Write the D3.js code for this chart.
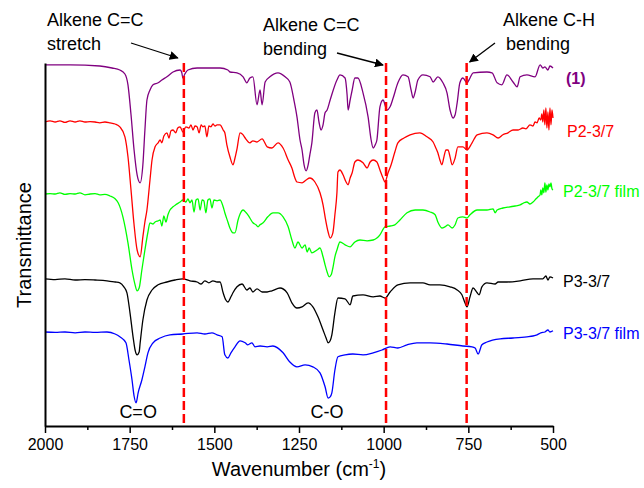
<!DOCTYPE html>
<html>
<head>
<meta charset="utf-8">
<script src="https://cdn.jsdelivr.net/npm/d3@7"></script>
<style>
  body { margin: 0; background: #fff; }
  svg { display: block; }
  text { font-family: "Liberation Sans", Arial, Helvetica, sans-serif; }
</style>
</head>
<body>
<svg id="chart" width="644" height="488"></svg>
<script>
// FTIR spectra, offset vertically; values are [wavenumber (cm-1), transmittance (offset, a.u.)]
const wnTicks = [2000, 1750, 1500, 1250, 1000, 750, 500];
const wnMinorTicks = [1875, 1625, 1375, 1125, 875, 625];

const spectrumMonomer = [
  [2000,90.3],[1926,90.3],[1838,90],[1802,89.5],[1779,89],[1764,88],[1755,85.3],[1746,77.8],
  [1737,69],[1728,62.8],[1719,60.8],[1711,65.3],[1705,74],[1699,81.5],[1690,84],[1681,85.3],
  [1666,85.8],[1655,86.5],[1640,87.3],[1622,88.5],[1601,89],[1596,88.3],[1593,87],[1587,88],
  [1578,89],[1551,89.5],[1483,89.5],[1460,89],[1454,88.5],[1433,88.3],[1415,87.3],[1404,85.8],
  [1395,87],[1386,87.3],[1374,80.3],[1365,84],[1359,80.3],[1350,86],[1336,87.3],[1312,88.3],
  [1291,87.3],[1277,86],[1265,81.5],[1256,77.3],[1247,71.5],[1241,69],[1235,65.3],[1229,63.8],
  [1223,65.3],[1218,67.8],[1212,70.8],[1203,78.3],[1197,79],[1191,76],[1185,74],[1179,75.3],
  [1173,78.3],[1167,79],[1158,81.5],[1138,86.5],[1129,87.8],[1114,87],[1108,82.8],[1105,79],
  [1099,81.5],[1093,84],[1085,87],[1076,87],[1061,83.3],[1046,77.3],[1037,71.5],[1031,69.5],
  [1025,70.3],[1020,71.5],[1011,79.8],[1002,81.5],[990,79],[981,79.8],[972,82],[958,85.8],
  [943,87.8],[928,87.3],[919,84],[913,82],[907,83.5],[899,86.5],[884,87.8],[863,87.3],
  [854,86],[840,87.3],[825,85.8],[813,83.3],[804,79],[795,77],[789,77.8],[783,80.8],
  [775,85.8],[766,87],[754,85.8],[745,87],[736,88.3],[695,88.5],[680,88.3],[665,85.8],
  [651,85.3],[636,87.8],[618,86],[606,84.8],[597,87.3],[577,87.8],[553,87.3],[538,90.3],
  [530,89.5],[524,89.8],[515,89],[509,90],[500,89.5]
];

const spectrumP2 = [
  [2000,76],[1985,76.3],[1970,76],[1956,76.3],[1941,75.9],[1926,76.3],[1911,76],[1897,76.3],
  [1882,76],[1867,76.1],[1852,76],[1838,75.8],[1823,76],[1808,75.8],[1793,75.5],[1779,74.8],
  [1764,72.3],[1755,67.3],[1746,59],[1737,50.3],[1728,44],[1719,42.3],[1711,47.3],[1705,51],
  [1699,54],[1690,61.5],[1684,66.5],[1675,69.8],[1666,70.8],[1660,71.5],[1655,70.8],[1649,72.5],
  [1640,73.3],[1634,72],[1628,73.8],[1622,74],[1614,73.3],[1608,74.5],[1601,74.8],[1593,73.5],
  [1584,74.8],[1575,74.5],[1569,75.3],[1563,74],[1557,75],[1551,74.8],[1545,73.3],[1539,75.3],
  [1534,74.8],[1528,75],[1522,72.3],[1516,75],[1510,74.8],[1504,75.5],[1498,75],[1492,75.3],
  [1483,75.3],[1474,74],[1469,73.3],[1463,70.3],[1454,67.3],[1445,65.3],[1439,67],[1433,69.3],
  [1424,73.3],[1415,72.8],[1409,72],[1395,70.8],[1386,71.3],[1374,71],[1359,71.8],[1344,69.8],
  [1330,69.5],[1312,70.8],[1297,69.5],[1282,66.5],[1271,64.5],[1262,62],[1256,61],[1241,60.8],
  [1229,61.5],[1218,62],[1203,61],[1188,58.3],[1179,55.3],[1173,52.3],[1164,48.5],[1158,47],
  [1150,48.3],[1144,52.8],[1138,58.3],[1135,63.5],[1129,64],[1120,62.8],[1111,61],[1105,60.3],
  [1099,62],[1093,63.3],[1085,66],[1076,66.5],[1061,65.8],[1049,64.5],[1040,66],[1031,66.5],
  [1020,66],[1011,64],[1002,62],[996,61],[987,63.3],[978,65.3],[967,68.5],[958,70.8],
  [940,72],[922,72.8],[893,73.3],[872,72.3],[854,71],[846,69.5],[840,68.3],[834,66.5],
  [828,65.3],[822,67.3],[816,69],[810,69],[804,67.3],[798,65.3],[789,67],[781,69.8],
  [766,69.8],[754,69],[739,70.8],[724,72.8],[695,73.3],[677,72.8],[662,72],[648,72.8],
  [633,73.3],[618,74],[603,74],[589,74.5],[580,74.3],[568,75.3],[559,75],[553,76],
  [547,75.8],[541,77],[536,76.5],[533,78],[530,76],[527,79],[524,75.3],[521,79.5],
  [518,74.5],[515,78.5],[512,74],[509,79.5],[506,75.3],[503,79],[500,77]
];

const spectrumP2Film = [
  [2000,58],[1985,58.1],[1970,58],[1956,58.3],[1941,57.9],[1926,58.1],[1911,58],[1897,58.3],
  [1882,57.8],[1867,58],[1852,58.1],[1838,57.8],[1823,57.9],[1808,57.5],[1793,56.8],[1784,55.8],
  [1770,52.3],[1755,45.8],[1743,39],[1734,35.3],[1728,33.8],[1722,34.5],[1714,39],[1705,44],
  [1696,48.5],[1690,50.8],[1681,50.5],[1675,51],[1666,51.3],[1660,51.5],[1655,50],[1649,52.5],
  [1643,51],[1637,52.8],[1631,54],[1622,54.8],[1614,55.3],[1601,56],[1593,56.5],[1584,56],
  [1578,56.8],[1572,55.8],[1566,56.5],[1560,53.5],[1554,56.5],[1548,56.8],[1542,54],[1536,56.5],
  [1531,56.3],[1525,53.3],[1519,56.5],[1513,56.8],[1507,54.5],[1501,56.5],[1492,56.3],[1483,56.5],
  [1474,54.8],[1469,53.3],[1460,51],[1454,49.5],[1445,48.3],[1439,48.3],[1430,51.5],[1424,53],
  [1415,54],[1406,53.3],[1401,52.8],[1395,52],[1386,50.8],[1377,50.3],[1371,49.8],[1365,50.3],
  [1356,50.8],[1342,52.3],[1327,53.3],[1312,53.3],[1297,52.3],[1282,49.8],[1271,46.5],[1262,44.5],
  [1253,46],[1241,44.5],[1232,45.3],[1226,43.5],[1220,44.5],[1212,43.3],[1197,44],[1188,44.5],
  [1179,42.3],[1173,40.3],[1167,38.5],[1161,37.3],[1155,37.8],[1150,39.5],[1144,42.3],[1138,44],
  [1129,46],[1114,45.3],[1099,44.8],[1085,46],[1070,46.5],[1049,46.3],[1031,46.5],[1020,47],
  [1011,47.8],[996,49.8],[981,50],[967,50.3],[952,51.5],[931,53.3],[907,54],[884,54],
  [863,53.5],[848,52.8],[840,51],[828,49.5],[819,49.8],[810,50.3],[798,49.5],[789,50.3],
  [781,52],[766,52.3],[754,52],[745,52.8],[724,54],[695,54],[677,54.3],[671,53.3],
  [665,54],[648,54.5],[627,54.8],[612,55],[597,55.3],[586,55.8],[577,56],[568,55.5],
  [559,56],[550,56.8],[544,57.3],[538,57.8],[536,59],[533,57.8],[530,59.5],[527,58.3],
  [524,60.8],[521,58.5],[518,60.3],[515,59],[512,60.5],[509,59.8],[506,60.8],[503,59.3],[500,59]
];

const spectrumP3 = [
  [2000,36.8],[1970,36.6],[1941,36.8],[1911,36.5],[1882,36.6],[1852,36.5],[1817,36.3],[1793,36],
  [1779,35.8],[1767,34.8],[1758,33.3],[1749,28.3],[1740,22.3],[1734,19],[1728,17.8],[1722,18.5],
  [1719,20.8],[1711,26.5],[1699,31.5],[1684,34],[1666,35.3],[1640,36],[1616,36.5],[1593,36.8],
  [1572,36.3],[1551,36],[1539,35.5],[1528,36.3],[1516,35.8],[1504,36.3],[1492,36],[1483,36],
  [1474,33.3],[1466,31.5],[1460,31],[1451,32.3],[1445,33.3],[1433,34.8],[1418,35.5],[1404,34],
  [1395,34.5],[1386,33.5],[1374,34.3],[1359,33.5],[1344,33.5],[1330,33.8],[1306,34.5],[1285,33.3],
  [1271,30.8],[1256,29.5],[1241,29.8],[1223,30.8],[1209,29.8],[1194,27.3],[1179,24],[1170,22],
  [1164,20.8],[1158,21.3],[1153,22.8],[1144,28.3],[1135,32],[1114,31.8],[1099,30.3],[1091,32.5],
  [1061,32.8],[1031,32.3],[1011,32.5],[996,32],[981,33.5],[958,35.3],[922,35.8],[884,35.8],
  [863,35.3],[834,35.3],[804,34.8],[783,34],[769,32.8],[760,30.8],[754,29.8],[745,32.3],
  [736,34.5],[724,33.3],[718,32.8],[710,34.8],[695,35.8],[671,35.5],[662,36],[636,36],
  [597,36.3],[559,36.8],[530,36.8],[521,37.5],[515,36.5],[509,37.3],[500,37]
];

const spectrumP3Film = [
  [2000,23.5],[1970,23.4],[1941,23.5],[1911,23.3],[1882,23.5],[1852,23.4],[1817,23.5],[1793,23],
  [1779,22.3],[1761,20.8],[1752,16.5],[1743,11.5],[1737,7.5],[1731,5.8],[1725,8.3],[1714,11.5],
  [1705,14.8],[1696,18.3],[1681,20.8],[1660,22],[1631,22.8],[1593,23],[1551,23.3],[1528,23],
  [1507,23.3],[1492,22.8],[1477,22.3],[1469,17.8],[1460,17],[1451,18.3],[1439,19.8],[1424,21.3],
  [1409,20.8],[1401,20.3],[1389,20.8],[1380,19.8],[1365,20],[1344,19.8],[1327,20],[1297,18.3],
  [1277,16],[1256,14.8],[1232,15.3],[1209,14.8],[1188,13.3],[1173,9.8],[1164,7],[1158,7.3],
  [1153,8.3],[1144,14],[1135,17.3],[1114,17.8],[1091,18],[1061,17.8],[1031,18.3],[1005,19],
  [981,19.8],[958,19.5],[931,20.3],[902,20.8],[863,20.8],[813,20.5],[766,20],[739,19.8],
  [730,19.5],[721,18],[710,20.3],[695,21],[656,21.8],[618,22],[577,22.3],[559,22.5],
  [547,22.8],[536,23.3],[524,23.5],[515,24],[509,23.5],[500,23.8]
];

const seriesNames = ["(1)", "P2-3/7", "P2-3/7 film", "P3-3/7", "P3-3/7 film"];
const seriesData = [spectrumMonomer, spectrumP2, spectrumP2Film, spectrumP3, spectrumP3Film];
const seriesColors = ["#800080", "#ff0000", "#00ff00", "#000000", "#0000ff"];

// band assignments marked with dashed lines
const markerWavenumbers = [1590, 993, 755];
const markerLabels = [["Alkene C=C", "stretch"], ["Alkene C=C", "bending"], ["Alkene C-H", "bending"]];
const bandLabels = ["C=O", "C-O"];
const bandWavenumbers = [1725, 1167];

const svg = d3.select("#chart");
const plot = { left: 45, right: 553, top: 63, bottom: 426 };

const x = d3.scaleLinear().domain([2000, 500]).range([plot.left, plot.right]);
const y = d3.scaleLinear().domain([0, 90.75]).range([plot.bottom, plot.top]);

// spectra
const line = d3.line()
  .x(d => x(d[0]))
  .y(d => y(d[1]))
  .curve(d3.curveMonotoneX);

svg.append("g").selectAll("path")
  .data(seriesData)
  .join("path")
  .attr("d", line)
  .attr("fill", "none")
  .attr("stroke", (d, i) => seriesColors[i])
  .attr("stroke-width", 1.3)
  .attr("stroke-linejoin", "round");

// dashed marker lines
svg.append("g").selectAll("line")
  .data(markerWavenumbers)
  .join("line")
  .attr("x1", d => x(d)).attr("x2", d => x(d))
  .attr("y1", y(90.75)).attr("y2", y(0))
  .attr("stroke", "#ff0000")
  .attr("stroke-width", 2.5)
  .attr("stroke-dasharray", "9,4");

// bottom axis
const xAxis = svg.append("g")
  .attr("transform", `translate(0,${plot.bottom})`)
  .call(d3.axisBottom(x).tickValues(wnTicks).tickFormat(d3.format("d"))
    .tickSizeInner(7).tickSizeOuter(0).tickPadding(6));
xAxis.select(".domain").attr("stroke-width", 2);
xAxis.selectAll(".tick line").attr("stroke-width", 1.5);
xAxis.selectAll(".tick text").attr("font-size", 16).attr("fill", "#000")
  .style("font-family", '"Liberation Sans", Arial, sans-serif');

const xMinor = svg.append("g")
  .attr("transform", `translate(0,${plot.bottom})`)
  .call(d3.axisBottom(x).tickValues(wnMinorTicks).tickFormat("").tickSizeInner(4).tickSizeOuter(0));
xMinor.select(".domain").remove();
xMinor.selectAll(".tick line").attr("stroke-width", 1.5);

// left axis (no ticks: offset spectra)
const yAxis = svg.append("g")
  .attr("transform", `translate(${plot.left},0)`)
  .call(d3.axisLeft(y).tickValues([]).tickSizeOuter(0));
yAxis.select(".domain").attr("stroke-width", 2);

// axis titles
const xTitle = svg.append("text")
  .attr("x", (plot.left + plot.right) / 2)
  .attr("y", 476)
  .attr("text-anchor", "middle")
  .attr("font-size", 20);
xTitle.append("tspan").text("Wavenumber (cm");
xTitle.append("tspan").attr("font-size", 12).attr("dy", -8).text("-1");
xTitle.append("tspan").attr("dy", 8).text(")");

svg.append("text")
  .attr("transform", `translate(31,245) rotate(-90)`)
  .attr("text-anchor", "middle")
  .attr("font-size", 20)
  .text("Transmittance");

// series labels
const labelPos = [[566, 84], [567, 137], [563, 197], [563, 287], [563, 339]];
svg.append("g").selectAll("text")
  .data(seriesNames)
  .join("text")
  .attr("x", (d, i) => labelPos[i][0])
  .attr("y", (d, i) => labelPos[i][1])
  .attr("font-size", 16)
  .attr("font-weight", (d, i) => i === 0 ? "bold" : "normal")
  .attr("fill", (d, i) => seriesColors[i])
  .text(d => d);

// band labels
svg.append("g").selectAll("text")
  .data(bandLabels)
  .join("text")
  .attr("x", (d, i) => x(bandWavenumbers[i]))
  .attr("y", 418)
  .attr("text-anchor", "middle")
  .attr("font-size", 18)
  .text(d => d);

// annotation texts with arrows pointing at the dashed lines
svg.append("defs").append("marker")
  .attr("id", "arrowhead")
  .attr("viewBox", "0 0 10 10")
  .attr("refX", 9).attr("refY", 5)
  .attr("markerWidth", 9).attr("markerHeight", 9)
  .attr("markerUnits", "userSpaceOnUse")
  .attr("orient", "auto")
  .append("path")
  .attr("d", "M0,0 L10,5 L0,10 Z")
  .attr("fill", "#000");

const annoText = [[47, 26], [263, 31], [503, 26]];
const annoArrow = [
  { from: [131, 43], dx: -6, dy: -5 },
  { from: [337, 53], dx: -3, dy: 2 },
  { from: [495, 43], dx: 3, dy: -1 }
];
markerLabels.forEach((lines, i) => {
  const t = svg.append("text")
    .attr("x", annoText[i][0]).attr("y", annoText[i][1])
    .attr("font-size", 18);
  lines.forEach((s, j) => {
    t.append("tspan").attr("x", annoText[i][0] + (j === 1 && i === 2 ? 3 : 0))
      .attr("dy", j === 0 ? 0 : 24).text(s);
  });
  const a = annoArrow[i];
  svg.append("line")
    .attr("x1", a.from[0]).attr("y1", a.from[1])
    .attr("x2", x(markerWavenumbers[i]) + a.dx)
    .attr("y2", y(90.75) + a.dy)
    .attr("stroke", "#000")
    .attr("stroke-width", 1.3)
    .attr("marker-end", "url(#arrowhead)");
});
</script>
</body>
</html>
